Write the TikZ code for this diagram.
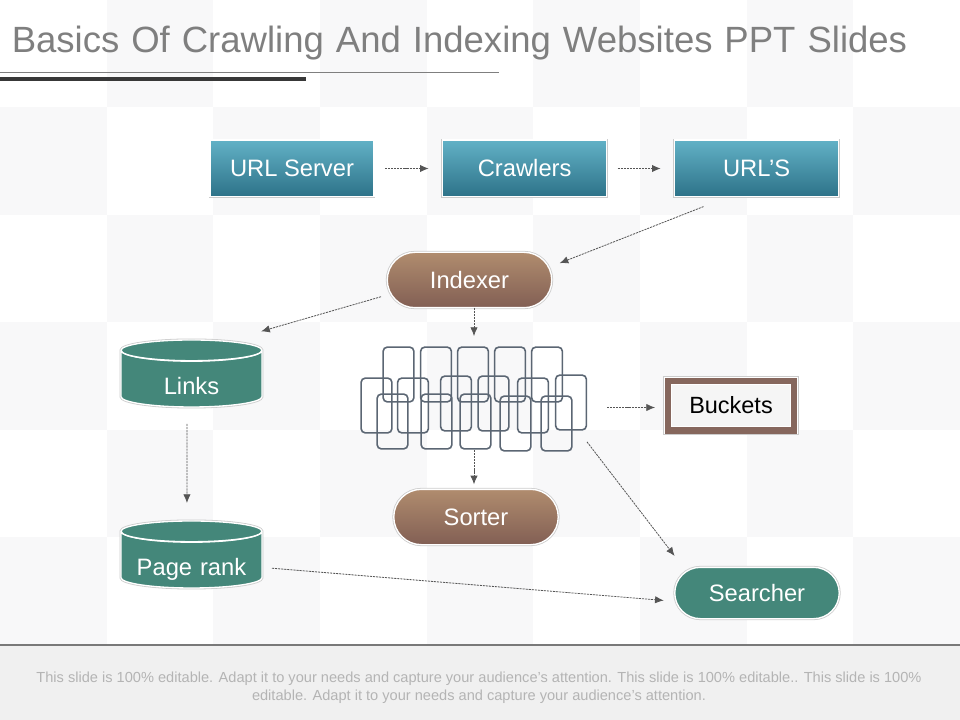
\documentclass[tikz,border=0pt]{standalone}
\usepackage{fontspec}
\setmainfont{Liberation Sans}
\newfontfamily\titlefamily[WordSpace=1.18]{Liberation Sans}
\usetikzlibrary{arrows.meta,positioning,shadows,shapes.geometric,shapes.misc}

\definecolor{cellgray}{HTML}{F8F8F9}
\definecolor{footgray}{HTML}{F0F0F0}
\definecolor{titlegray}{HTML}{7F7F7F}
\definecolor{notegray}{HTML}{B4B4B4}
\definecolor{tealtop}{HTML}{62B1C6}
\definecolor{tealbot}{HTML}{2D7288}
\definecolor{browntop}{HTML}{B08C6E}
\definecolor{brownbot}{HTML}{825F54}
\definecolor{brownline}{HTML}{86675D}
\definecolor{greenfill}{HTML}{44877A}
\definecolor{chainline}{HTML}{5B6673}
\definecolor{arrowgray}{HTML}{555555}

\begin{document}
\begin{tikzpicture}[x=0.75pt,y=-0.75pt,>={Latex[length=6.5pt,width=5.5pt]}]
	\tikzstyle{halo} = [preaction={draw=black!20, line width=2.2pt}]
	\tikzstyle{whitetext} = [text=white, font=\fontsize{17.8}{18}\selectfont]
	\tikzstyle{block} = [whitetext, rectangle, draw=white, line width=1pt, outer sep=0pt, halo, top color=tealtop, bottom color=tealbot, minimum width=123pt, minimum height=42.5pt]
	\tikzstyle{pill} = [whitetext, rounded rectangle, draw=white, line width=1pt, outer sep=0pt, halo, top color=browntop, bottom color=brownbot, minimum width=130pt, minimum height=41.5pt]
	\tikzstyle{drum} = [whitetext, cylinder, shape border rotate=90, shape aspect=0.42, draw=white, line width=1pt, outer sep=0pt, halo, fill=greenfill, minimum width=105.75pt, minimum height=50.25pt, inner sep=0pt, text width=37pt, align=center, text height=23pt, text depth=0pt]
	\tikzstyle{flow} = [->, arrowgray, line width=0.6pt, dash pattern=on 1.6pt off 0.7pt]

	\useasboundingbox (0,0) rectangle (960,720);

	% checker background
	\foreach \c in {0,...,8}
		\foreach \r in {0,...,5} {
			\pgfmathparse{int(mod(\c+\r,2))}
			\ifnum\pgfmathresult=1
				\fill [cellgray] (\c*106.67,\r*107.4) rectangle ++(106.67,107.4);
			\fi
		}
	\fill [footgray] (0,645) rectangle (960,720);
	\draw [gray!95!black, line width=1.1pt] (0,645) -- (960,645);

	% heading
	\node [anchor=west, inner sep=0pt, text=titlegray, font=\titlefamily\fontsize{27.4}{30}\selectfont] (title) at (11.5,43.5) {Basics Of Crawling And Indexing Websites PPT Slides};
	\draw [titlegray, line width=1.1pt] (0,72.5) -- (499,72.5);
	\draw [black!78, line width=2.6pt] (0,79) -- (306,79);

	% top row
	\node [block] (server) at (292,168.5) {URL Server};
	\node [block, right = 51.5pt of server] (crawlers) {Crawlers};
	\node [block, right = 51pt of crawlers] (urls) {URL’S};

	\node [pill] (indexer) at (469.5,280) {Indexer};
	\node [pill] (sorter) at (476,517) {Sorter};
	\node [pill, top color=greenfill, bottom color=greenfill, minimum height=38.5pt] (searcher) at (757,593) {Searcher};

	\node [drum] (links) at (191.5,379) {\makebox[37pt]{Links}};
	\node [drum] (rank) at (191.5,560) {\makebox[37pt]{Page rank}};
	\draw [white, line width=0.8pt] (links.before top) arc [start angle=180, end angle=360, x radius=70.5, y radius=-11];
	\draw [white, line width=0.8pt] (rank.before top) arc [start angle=180, end angle=360, x radius=70.5, y radius=-11];

	\node [rectangle, draw=white, double=brownline, double distance=5pt, line width=0.7pt, outer sep=0pt, preaction={draw=black!20, line width=7.6pt}, fill=black!4, text=black, font=\fontsize{17.6}{18}\selectfont, minimum width=94.5pt, minimum height=37pt] (buckets) at (731,405.5) {Buckets};

	% chain of links
	\node [minimum width=169.5pt, minimum height=77.25pt, inner sep=0pt, outer sep=0pt] (bucketset) at (474,398.5) {};
	\foreach \x/\y [count=\i] in {398.5/374.5,436/374.5,473/374.5,510/374.5,547/374.5,
		376.5/405.5,413/405.5,456/403.5,493.5/403.5,533/405.5,571/402.5,
		392.5/421.5,436.5/421.5,475.5/421.5,515.5/423.5,556.5/423.5}
		\node [rectangle, rounded corners=3pt, draw=chainline, line width=1.2pt, outer sep=0pt, minimum width=23pt, minimum height=41pt] (link\i) at (\x,\y) {};

	% connectors
	\draw [flow, shorten <=8.25pt, shorten >=10.5pt] (server) -- (crawlers);
	\draw [flow, shorten <=8.25pt, shorten >=10.5pt] (crawlers) -- (urls);
	\draw [flow, shorten <=20pt, shorten >=8.8pt] (urls.-135) -- (indexer.9);
	\draw [flow, shorten <=7.8pt, shorten >=27pt] (indexer.190.75) -- (links.47.5);
	\draw [flow, shorten >=8.25pt] (indexer.south -| bucketset.north) -- (bucketset.north);
	\draw [flow, shorten >=3.75pt] (bucketset.south) -- (bucketset.south |- sorter.north);
	\draw [flow, shorten <=15pt, shorten >=9.75pt] ([yshift=-1.5pt]buckets.west -| bucketset.east) -- ([yshift=-1.5pt]buckets.west);
	\draw [flow, shorten >=14.7pt] (bucketset.-21.9) -- (searcher.163.9);
	\draw [flow, shorten <=12.75pt, shorten >=13.5pt] ([xshift=-3.4pt]links.south) -- ([xshift=-3.4pt]rank.north);
	\draw [flow, shorten <=7.5pt, shorten >=9.4pt] (rank.-6.9) -- (searcher.186.4);

	% footer note
	\node [align=center, inner sep=0pt, text=notegray, font=\fontsize{10.95}{13.5}\selectfont] (note) at (479,688) {This slide is 100\% editable. Adapt it to your needs and capture your audience's attention. This slide is 100\% editable.. This slide is 100\%\\editable. Adapt it to your needs and capture your audience's attention.};
\end{tikzpicture}
\end{document}
